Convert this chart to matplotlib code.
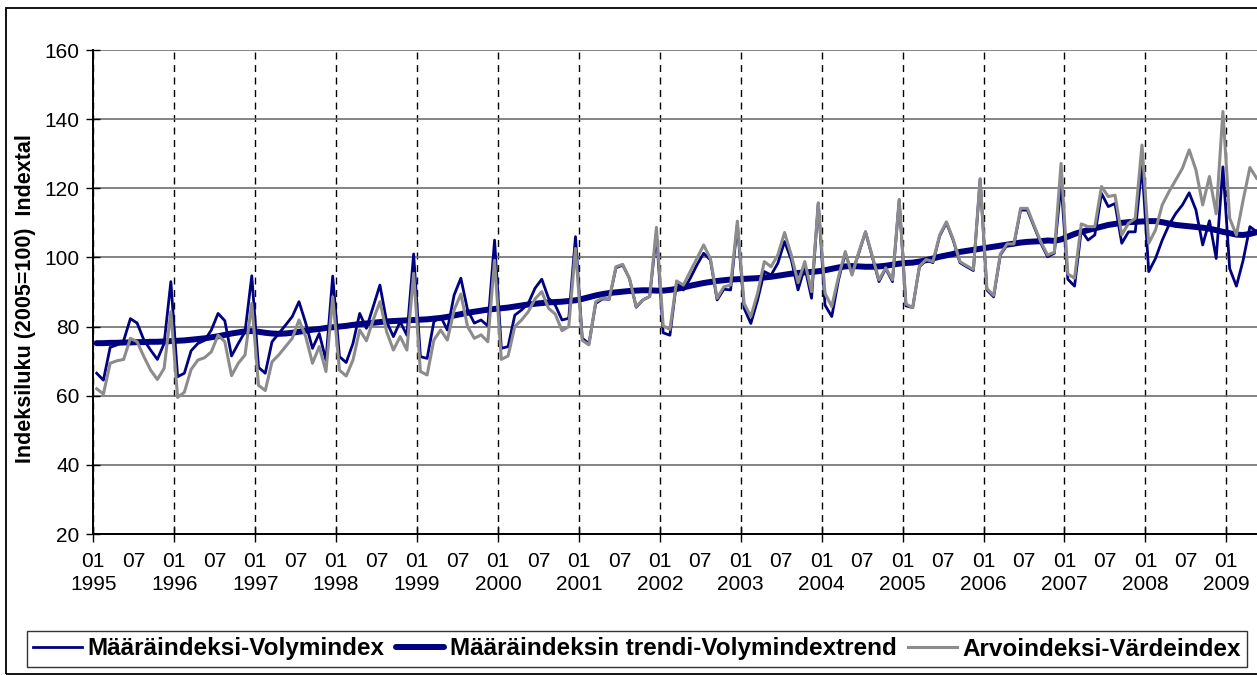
import numpy as np
import matplotlib
matplotlib.use('Agg')
import matplotlib.pyplot as plt
from matplotlib.patches import Rectangle

plt.rcParams['font.family'] = ['Liberation Sans', 'DejaVu Sans']

# Kuukausisarjat 1995-01 ... 2009-05
volyymi = [
    66.5, 64.5, 74.0, 74.7, 75.9, 82.3, 81.0, 76.1, 73.2, 70.5, 75.1, 93.0,       # 1995
    65.5, 66.5, 73.0, 75.1, 76.0, 79.0, 83.8, 81.7, 71.5, 75.1, 78.5, 94.7,       # 1996
    68.2, 66.5, 75.6, 78.0, 80.4, 82.9, 87.2, 81.0, 73.7, 78.0, 70.3, 94.6,       # 1997
    71.3, 69.6, 75.1, 83.8, 79.5, 85.8, 92.0, 81.4, 77.1, 81.4, 77.5, 101.0,      # 1998
    71.3, 70.8, 81.4, 82.9, 79.0, 89.1, 94.0, 84.8, 81.0, 81.9, 80.2, 105.0,      # 1999
    73.7, 74.2, 83.3, 84.8, 86.7, 91.1, 93.7, 88.2, 86.2, 81.9, 82.4, 106.0,      # 2000
    76.6, 75.1, 86.7, 88.0, 87.9, 97.0, 97.8, 93.9, 85.6, 87.7, 88.7, 107.0,      # 2001
    78.2, 77.5, 93.0, 90.6, 93.9, 97.8, 101.2, 99.3, 87.7, 90.8, 90.6, 109.5,     # 2002
    85.3, 80.9, 87.7, 95.9, 94.9, 98.3, 104.6, 99.3, 90.6, 97.3, 88.2, 115.7,     # 2003
    86.2, 82.9, 93.5, 101.2, 95.4, 101.2, 107.4, 100.2, 93.0, 96.8, 93.0, 116.6,  # 2004
    86.0, 85.5, 97.3, 99.2, 98.5, 106.2, 110.0, 105.0, 98.5, 97.3, 96.2, 122.6,   # 2005
    90.6, 88.6, 100.7, 103.6, 103.6, 113.7, 113.7, 108.9, 104.1, 100.2, 101.2, 121.5,  # 2006
    93.7, 91.7, 107.9, 105.0, 106.5, 118.5, 114.7, 115.6, 104.1, 107.4, 107.4, 126.7,  # 2007
    95.9, 99.7, 105.0, 109.4, 112.7, 115.2, 118.7, 113.7, 103.6, 110.6, 99.7, 126.2,   # 2008
    96.8, 91.7, 99.2, 108.9, 107.4,                                                    # 2009
]

trendi = [
    75.2, 75.2, 75.3, 75.3, 75.4, 75.4, 75.5, 75.5, 75.6, 75.6, 75.7, 75.8,
    75.9, 76.0, 76.2, 76.4, 76.6, 76.9, 77.2, 77.6, 78.0, 78.3, 78.6, 78.7,
    78.5, 78.2, 78.0, 77.9, 78.0, 78.2, 78.5, 78.8, 79.1, 79.3, 79.6, 79.8,
    80.0, 80.2, 80.5, 80.7, 80.9, 81.1, 81.3, 81.5, 81.6, 81.7, 81.8, 81.9,
    82.0, 82.1, 82.3, 82.5, 82.8, 83.2, 83.6, 84.0, 84.3, 84.6, 84.9, 85.1,
    85.3, 85.5, 85.8, 86.1, 86.4, 86.6, 86.8, 87.0, 87.1, 87.2, 87.4, 87.6,
    88.0, 88.5, 89.0, 89.4, 89.7, 89.9, 90.1, 90.3, 90.4, 90.5, 90.5, 90.4,
    90.4, 90.6, 90.9, 91.3, 91.8, 92.2, 92.6, 92.9, 93.2, 93.4, 93.6, 93.7,
    93.8, 93.9, 94.0, 94.2, 94.4, 94.7, 95.0, 95.3, 95.5, 95.7, 95.8, 96.0,
    96.3, 96.7, 97.1, 97.4, 97.5, 97.4, 97.3, 97.3, 97.4, 97.6, 97.9, 98.2,
    98.4, 98.5, 98.8, 99.2, 99.7, 100.2, 100.6, 101.0, 101.6, 101.9, 102.2, 102.5,
    102.8, 103.1, 103.4, 103.7, 104.0, 104.3, 104.5, 104.6, 104.7, 104.9, 104.8, 105.2,
    106.0, 106.8, 107.4, 107.9, 108.4, 108.9, 109.4, 109.7, 110.0, 110.2, 110.3, 110.4,
    110.5, 110.5, 110.2, 109.8, 109.4, 109.2, 109.0, 108.8, 108.6, 108.3, 107.9, 107.4,
    107.0, 106.6, 106.5, 106.8, 107.3,
]

arvo = [
    62.0, 60.5, 69.4, 70.1, 70.5, 76.6, 75.6, 71.3, 67.4, 64.7, 67.9, 84.3,
    59.5, 61.0, 67.6, 70.3, 71.0, 72.7, 77.5, 75.6, 65.8, 69.4, 71.8, 86.7,
    63.0, 61.5, 69.8, 71.8, 74.2, 76.6, 81.9, 77.1, 69.4, 74.2, 67.0, 88.6,
    67.4, 65.7, 70.3, 79.0, 75.9, 81.9, 87.2, 78.5, 73.2, 77.1, 73.2, 95.4,
    67.0, 66.0, 76.1, 79.0, 76.1, 84.8, 89.4, 80.0, 76.6, 77.6, 75.6, 99.2,
    70.5, 71.5, 80.0, 81.9, 84.3, 88.0, 90.1, 85.3, 83.6, 78.8, 80.0, 102.6,
    76.0, 74.7, 87.2, 88.2, 88.0, 97.3, 98.0, 93.9, 85.8, 87.7, 88.7, 108.7,
    80.2, 79.2, 93.2, 92.0, 95.9, 99.7, 103.6, 99.7, 88.2, 91.5, 92.0, 110.5,
    86.7, 82.9, 89.6, 98.8, 97.3, 100.7, 107.2, 100.7, 92.7, 98.8, 90.1, 115.8,
    89.6, 85.8, 94.4, 101.7, 94.9, 101.5, 107.4, 100.5, 93.5, 97.0, 93.5, 116.8,
    86.5, 85.5, 97.5, 99.4, 98.8, 106.5, 110.3, 105.3, 98.8, 97.6, 96.5, 122.8,
    91.0, 89.0, 101.0, 103.9, 103.9, 114.2, 114.2, 109.3, 104.5, 100.7, 101.5, 127.2,
    95.2, 94.0, 109.7, 108.9, 108.9, 120.5, 117.6, 118.0, 106.5, 109.9, 111.3, 132.5,
    104.1, 107.9, 115.2, 119.0, 122.4, 125.8, 131.1, 125.3, 115.2, 123.4, 112.6, 142.2,
    111.3, 106.5, 116.6, 126.0, 122.9,
]

vuodet = list(range(1995, 2010))

sarjat = ['Määräindeksi-Volymindex', 'Määräindeksin trendi-Volymindextrend',
          'Arvoindeksi-Värdeindex']

# kuukaudet piirretään kategorioiden keskelle
x = np.arange(len(volyymi)) + 0.5

fig = plt.figure(figsize=(12.57, 6.75), dpi=100)
ax = fig.add_axes([93.3 / 1257, 141 / 675, (1257 - 93.3) / 1257, 484 / 675])

navy = '#000080'
harmaa = '#8c8c8c'

ax.plot(x, volyymi, color=navy, lw=2.0, label=sarjat[0], zorder=3)
ax.plot(x, trendi, color=navy, lw=4.3, label=sarjat[1], zorder=4,
        solid_capstyle='round')
ax.plot(x, arvo, color=harmaa, lw=2.2, label=sarjat[2], zorder=5)

ax.set_xlim(0, (1257 - 93.3) / 6.744)
ax.set_ylim(20, 160)
ax.set_yticks(range(20, 161, 20))

# x-akselin tekstit: tammikuu + vuosi, heinäkuu
ax.set_xticks([12 * i for i in range(len(vuodet))])
ax.set_xticklabels(['01\n%d' % v for v in vuodet])
ax.set_xticks([12 * i + 6 for i in range(len(vuodet) - 1)], minor=True)
ax.set_xticklabels(['07\n ' for v in vuodet[:-1]], minor=True)
for t in ax.get_xticklabels(which='both'):
    t.set_linespacing(1.25)

ax.tick_params(axis='x', which='major', direction='inout', length=12,
               width=1, labelsize=15, pad=7, color='black')
ax.tick_params(axis='x', which='minor', length=0, labelsize=15, pad=13)
ax.tick_params(axis='y', direction='inout', length=10, width=1,
               labelsize=15, pad=5)

ax.grid(axis='y', color='#6e6e6e', lw=1.2, zorder=1)
ax.grid(axis='x', which='major', color='black', lw=1.0,
        linestyle=(0, (5, 4)), zorder=1)
ax.set_axisbelow(True)

for s in ['top', 'right']:
    ax.spines[s].set_visible(False)
ax.spines['left'].set_linewidth(1.4)
ax.spines['bottom'].set_linewidth(1.4)

fig.text(26 / 1257, 1 - 299 / 675, 'Indeksiluku (2005=100)  Indextal',
         rotation=90, ha='center', va='center', fontsize=15.5,
         fontweight='bold')

leg = fig.legend(loc='center', bbox_to_anchor=(637 / 1257, 1 - 649 / 675),
                 ncol=3, frameon=True, fancybox=False, handlelength=2.0,
                 handletextpad=0.25, columnspacing=0.45, borderpad=0.25,
                 prop={'size': 17.5, 'weight': 'bold'})
leg.get_frame().set_edgecolor('black')
leg.get_frame().set_linewidth(1.0)

# kaavion ulkoreunus
fig.patches.append(Rectangle((6 / 1257, 0.001), 1.2, 1 - 8 / 675 - 0.001,
                             transform=fig.transFigure, fill=False,
                             edgecolor='black', lw=1.3))

fig.savefig('out.png', dpi=100)
